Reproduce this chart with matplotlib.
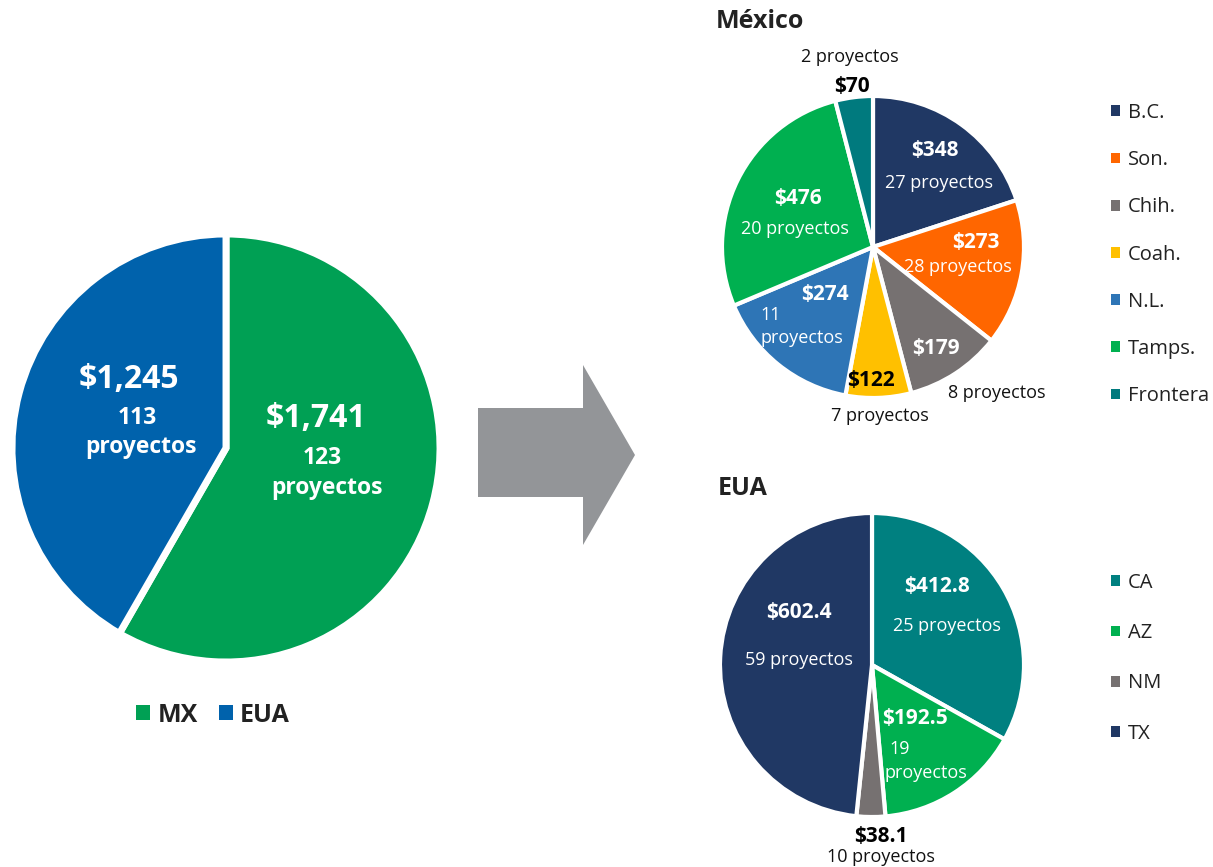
import matplotlib
matplotlib.use("Agg")
import matplotlib.pyplot as plt
from matplotlib.patches import Polygon, Patch

plt.rcParams['font.family'] = ['Open Sans', 'DejaVu Sans']

# ---------------- data ----------------
total_labels = ["MX", "EUA"]
total_values = [1741, 1245]
total_projects = [123, 113]
total_colors = ["#00A054", "#0062AC"]

mx_labels = ["B.C.", "Son.", "Chih.", "Coah.", "N.L.", "Tamps.", "Frontera"]
mx_values = [348, 273, 179, 122, 274, 476, 70]
mx_projects = [27, 28, 8, 7, 11, 20, 2]
mx_colors = ["#203864", "#FF6600", "#767171", "#FFC000", "#2E75B6", "#00B050", "#007A7E"]

us_labels = ["CA", "AZ", "NM", "TX"]
us_values = [412.8, 192.5, 38.1, 602.4]
us_projects = [25, 19, 10, 59]
us_colors = ["#008080", "#00B050", "#767171", "#203864"]

W, H = 1213, 867
fig = plt.figure(figsize=(W / 100, H / 100), dpi=100)


def ax_at(cx, cy, r):
    return fig.add_axes([(cx - r) / W, 1 - (cy + r) / H, 2 * r / W, 2 * r / H])


def fix(ax):
    ax.set_xlim(-1, 1)
    ax.set_ylim(-1, 1)
    ax.axis("off")


def ftxt(x, y, s, **kw):
    kw.setdefault("ha", "center")
    kw.setdefault("va", "center")
    fig.text(x / W, 1 - y / H, s, **kw)


def handles(colors):
    return [Patch(facecolor=c, edgecolor="none") for c in colors]


# ---------------- big pie ----------------
ax0 = ax_at(226, 448, 214)
ax0.pie(total_values, colors=total_colors, startangle=90, counterclock=False,
        radius=1, wedgeprops=dict(edgecolor="white", linewidth=5))
fix(ax0)
ftxt(129, 380, f"${total_values[1]:,}", color="white", fontsize=23, fontweight="bold")
ftxt(137, 418, f"{total_projects[1]}", color="white", fontsize=16.5, fontweight="bold")
ftxt(141, 447, "proyectos", color="white", fontsize=16.5, fontweight="bold")
ftxt(316, 419, f"${total_values[0]:,}", color="white", fontsize=23, fontweight="bold")
ftxt(322, 458, f"{total_projects[0]}", color="white", fontsize=16.5, fontweight="bold")
ftxt(327, 488, "proyectos", color="white", fontsize=16.5, fontweight="bold")
fig.legend(handles(total_colors), total_labels, loc="center",
           bbox_to_anchor=(213 / W, 1 - 715 / H),
           ncol=2, frameon=False, handlelength=0.55, handleheight=0.55,
           handletextpad=0.3, columnspacing=0.85,
           prop=dict(size=18, weight="bold"), labelcolor="#222222")

# ---------------- arrow ----------------
arrow_pts = [(478, 408), (583, 408), (583, 365), (635, 455), (583, 545), (583, 497), (478, 497)]
fig.patches.append(Polygon([(x / W, 1 - y / H) for x, y in arrow_pts], closed=True,
                           transform=fig.transFigure, facecolor="#939598", edgecolor="none"))

# ---------------- México ----------------
ax1 = ax_at(873, 247, 151)
ax1.pie(mx_values, colors=mx_colors, startangle=90, counterclock=False,
        radius=1, wedgeprops=dict(edgecolor="white", linewidth=3))
fix(ax1)
ftxt(716, 22, "México", ha="left", fontsize=18, fontweight="bold", color="#222222")
lab = 15
sub = 13
ftxt(850, 57, f"{mx_projects[6]} proyectos", fontsize=sub, color="#111111")
ftxt(852, 87, f"${mx_values[6]}", fontsize=lab, fontweight="bold", color="black")
ftxt(935, 151, f"${mx_values[0]}", fontsize=lab, fontweight="bold", color="white")
ftxt(939, 183, f"{mx_projects[0]} proyectos", fontsize=sub, color="white")
ftxt(976, 242, f"${mx_values[1]}", fontsize=lab, fontweight="bold", color="white")
ftxt(958, 267, f"{mx_projects[1]} proyectos", fontsize=sub, color="white")
ftxt(936, 349, f"${mx_values[2]}", fontsize=lab, fontweight="bold", color="white")
ftxt(997, 393, f"{mx_projects[2]} proyectos", fontsize=sub, color="#111111")
ftxt(871, 380, f"${mx_values[3]}", fontsize=lab, fontweight="bold", color="black")
ftxt(880, 416, f"{mx_projects[3]} proyectos", fontsize=sub, color="#111111")
ftxt(825, 295, f"${mx_values[4]}", fontsize=lab, fontweight="bold", color="white")
ftxt(760, 315, f"{mx_projects[4]}", ha="left", fontsize=sub, color="white")
ftxt(760, 338, "proyectos", ha="left", fontsize=sub, color="white")
ftxt(798, 198, f"${mx_values[5]}", fontsize=lab, fontweight="bold", color="white")
ftxt(795, 229, f"{mx_projects[5]} proyectos", fontsize=sub, color="white")
fig.legend(handles(mx_colors), mx_labels, loc="upper left",
           bbox_to_anchor=(1111 / W, 1 - 103 / H),
           frameon=False, handlelength=0.45, handleheight=0.45, handletextpad=0.4,
           labelspacing=1.35, borderpad=0, borderaxespad=0,
           prop=dict(size=14.5), labelcolor="#222222")

# ---------------- EUA ----------------
ax2 = ax_at(872, 665, 152)
ax2.pie(us_values, colors=us_colors, startangle=90, counterclock=False,
        radius=1, wedgeprops=dict(edgecolor="white", linewidth=3))
fix(ax2)
ftxt(718, 488, "EUA", ha="left", fontsize=18, fontweight="bold", color="#222222")
ftxt(937, 587, f"${us_values[0]}", fontsize=lab, fontweight="bold", color="white")
ftxt(947, 626, f"{us_projects[0]} proyectos", fontsize=sub, color="white")
ftxt(799, 613, f"${us_values[3]}", fontsize=lab, fontweight="bold", color="white")
ftxt(799, 660, f"{us_projects[3]} proyectos", fontsize=sub, color="white")
ftxt(915, 718, f"${us_values[1]}", fontsize=lab, fontweight="bold", color="white")
ftxt(889, 749, f"{us_projects[1]}", ha="left", fontsize=sub, color="white")
ftxt(926, 773, "proyectos", fontsize=sub, color="white")
ftxt(881, 836, f"${us_values[2]}", fontsize=lab, fontweight="bold", color="black")
ftxt(881, 857, f"{us_projects[2]} proyectos", fontsize=sub, color="#111111")
fig.legend(handles(us_colors), us_labels, loc="upper left",
           bbox_to_anchor=(1111 / W, 1 - 573 / H),
           frameon=False, handlelength=0.45, handleheight=0.45, handletextpad=0.4,
           labelspacing=1.5, borderpad=0, borderaxespad=0,
           prop=dict(size=14.5), labelcolor="#222222")

fig.savefig("out.png", dpi=100)
